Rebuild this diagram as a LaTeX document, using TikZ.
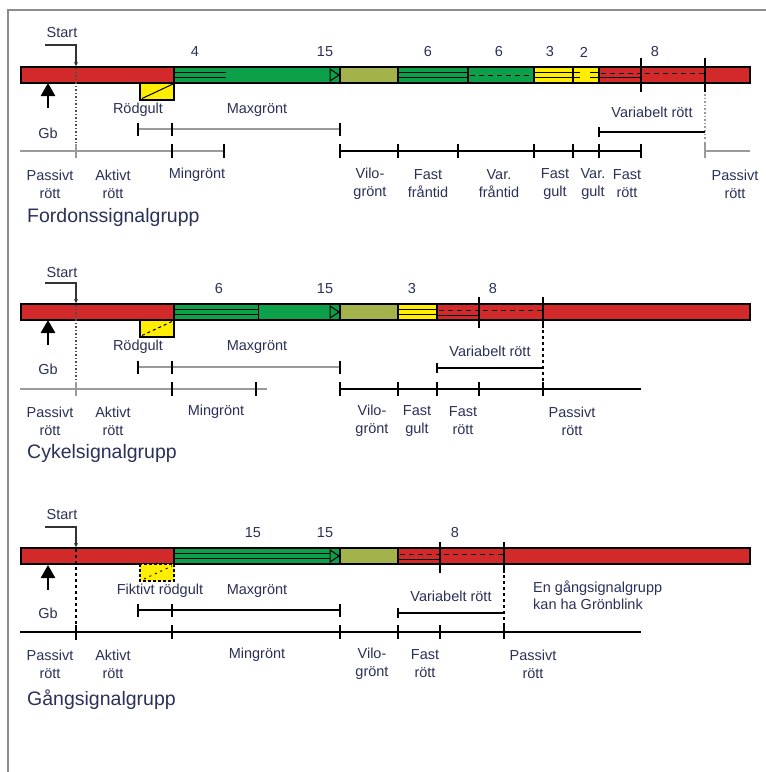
\documentclass[tikz,border=0pt]{standalone}
\usepackage{fontspec}
\setmainfont{Liberation Sans}
\usetikzlibrary{arrows.meta}
\definecolor{sred}{HTML}{D2292B}
\definecolor{sgreen}{HTML}{0CA04A}
\definecolor{solive}{HTML}{A4B24B}
\definecolor{syellow}{HTML}{FFEE00}
\definecolor{txt}{HTML}{2A3058}
\definecolor{framec}{HTML}{8C8C8C}
\definecolor{lgray}{HTML}{9A9A9A}
\tikzset{
  lbl/.style={font=\fontsize{14.5}{18}\selectfont, text=txt, align=center, inner sep=0pt},
  ttl/.style={font=\fontsize{19.5}{22}\selectfont, text=txt, anchor=west, inner sep=0pt},
  barline/.style={line width=1.1pt, black},
  inner/.style={line width=1pt, black},
  innerdash/.style={line width=1pt, black, dash pattern=on 5pt off 4pt},
  tickline/.style={line width=1.2pt, black},
  timeline/.style={line width=1.4pt, black},
  grayline/.style={line width=1.6pt, lgray},
  gbarrow/.style={line width=2.6pt, -{Triangle[length=13pt,width=14pt]}},
  startline/.style={line width=1.2pt, black!80, -{Stealth[length=4pt,width=4pt]}},
}
\begin{document}
\begin{tikzpicture}[x=1pt,y=-1pt]
\useasboundingbox (0,0) rectangle (766,772);
\draw[framec, line width=1.6pt] (8,772) -- (8,10) -- (766,10);

%%%%%%%%%%%%%%%% Section 1: Fordon
\fill[sred] (21,67) rectangle (174,83);
\fill[sgreen] (174,67) rectangle (340,83);
\fill[solive] (340,67) rectangle (398,83);
\fill[sgreen] (398,67) rectangle (534,83);
\fill[syellow] (534,67) rectangle (599,83);
\fill[sred] (599,67) rectangle (750,83);
\draw[barline] (21,67) rectangle (750,83);
\foreach \x in {174,340,398,468,534,573,599} \draw[barline] (\x,67) -- (\x,83);
\draw[inner] (174,72.5) -- (226,72.5) (174,77.5) -- (226,77.5);
\draw[inner] (330,69) -- (339,75) -- (330,81) -- cycle;
\draw[inner] (398,72.5) -- (468,72.5) (398,77.5) -- (468,77.5);
\draw[innerdash] (470,75) -- (534,75);
\draw[inner] (534,72.5) -- (573,72.5) (534,77.5) -- (573,77.5);
\draw[inner] (573,72.5) -- (580,72.5) (573,77.5) -- (580,77.5) (590,72.5) -- (599,72.5) (590,77.5) -- (599,77.5);
\draw[innerdash] (601,73) -- (641,73);
\draw[inner] (599,77.5) -- (641,77.5);
\draw[innerdash] (645,73) -- (705,73);
\draw[tickline] (641,58) -- (641,92);
\draw[tickline] (705,58) -- (705,92);
\draw[lgray, line width=1.6pt, dotted] (705,94) -- (705,140);
% start
\node[lbl] (st1) at (62,33) {Start};
\coordinate (st1a) at (45,45);
\coordinate (st1b) at (76,45);
\coordinate (st1c) at (76,66);
\draw[startline] (st1a) -- (st1b) -- (st1c);
\draw[black!70, line width=1.5pt, dotted] (76,68) -- (76,150);
% Gb
\coordinate (gb1s) at (48,108);
\coordinate (gb1t) at (48,83);
\draw[gbarrow] (gb1s) -- (gb1t);
\node[lbl] (gb1) at (48,133) {Gb};
% rödgult
\fill[syellow] (140,83) rectangle (174,100);
\draw[barline] (140,83) rectangle (174,100);
\draw[inner] (142,98.5) -- (173,84);
% numbers
\node[lbl] (n11) at (195,52) {4};
\node[lbl] (n12) at (325,52) {15};
\node[lbl] (n13) at (428,52) {6};
\node[lbl] (n14) at (499,52) {6};
\node[lbl] (n15) at (550,52) {3};
\node[lbl] (n16) at (584,52) {2};
\node[lbl] (n17) at (655,52) {8};
% labels
\node[lbl] (rg1) at (138,110) {Rödgult};
\node[lbl] (mg1) at (257,110) {Maxgrönt};
\node[lbl] (vr1) at (652,112) {Variabelt rött};
% intervals
\draw[grayline] (138,129) -- (340,129);
\foreach \x in {138,172,340} \draw[tickline] (\x,123) -- (\x,136);
\draw[timeline] (599,132) -- (705,132);
\draw[tickline] (599,127) -- (599,137);
% timeline
\draw[grayline] (20,151) -- (224,151);
\draw[lgray, line width=1.4pt] (76,144) -- (76,158);
\foreach \x in {172,224} \draw[tickline] (\x,144) -- (\x,158);
\draw[timeline] (340,151) -- (641,151);
\foreach \x in {340,398,458,534,573,599,641} \draw[tickline] (\x,144) -- (\x,158);
\draw[grayline] (705,151) -- (750,151);
\draw[lgray, line width=1.6pt] (705,142) -- (705,158);
% bottom labels
\node[lbl] (b11) at (50,184) {Passivt\\rött};
\node[lbl] (b12) at (113,184) {Aktivt\\rött};
\node[lbl] (b13) at (197,175) {Mingrönt};
\node[lbl] (b14) at (370,184) {Vilo-\\grönt};
\node[lbl] (b15) at (428,184) {Fast\\fråntid};
\node[lbl] (b16) at (499,184) {Var.\\fråntid};
\node[lbl] (b17) at (555,184) {Fast\\gult};
\node[lbl] (b18) at (593,184) {Var.\\gult};
\node[lbl] (b19) at (627,184) {Fast\\rött};
\node[lbl] (b110) at (735,184) {Passivt\\rött};
\node[ttl] (t1) at (27,217) {Fordonssignalgrupp};

%%%%%%%%%%%%%%%% Section 2: Cykel
\fill[sred] (21,304) rectangle (174,320);
\fill[sgreen] (174,304) rectangle (340,320);
\fill[solive] (340,304) rectangle (398,320);
\fill[syellow] (398,304) rectangle (437,320);
\fill[sred] (437,304) rectangle (750,320);
\draw[barline] (21,304) rectangle (750,320);
\foreach \x in {174,340,398,437} \draw[barline] (\x,304) -- (\x,320);
\draw[inner] (174,309.5) -- (258,309.5) (174,314.5) -- (258,314.5);
\draw[inner] (258,304) -- (258,320);
\draw[inner] (330,306) -- (339,312) -- (330,318) -- cycle;
\draw[inner] (398,309.5) -- (437,309.5) (398,314.5) -- (437,314.5);
\draw[innerdash] (439,310) -- (479,310);
\draw[inner] (437,315) -- (479,315);
\draw[innerdash] (483,310) -- (543,310);
\draw[tickline] (479,297) -- (479,328);
\draw[tickline] (543,297) -- (543,328);
\draw[black, line width=1.3pt, dashed] (543,330) -- (543,382);
% start
\node[lbl] (st2) at (62,273) {Start};
\coordinate (st2a) at (45,283);
\coordinate (st2b) at (76,283);
\coordinate (st2c) at (76,303);
\draw[startline] (st2a) -- (st2b) -- (st2c);
\draw[black!70, line width=1.5pt, dotted] (76,305) -- (76,388);
% Gb
\coordinate (gb2s) at (48,345);
\coordinate (gb2t) at (48,320);
\draw[gbarrow] (gb2s) -- (gb2t);
\node[lbl] (gb2) at (48,369) {Gb};
% rödgult
\fill[syellow] (140,320) rectangle (174,337);
\draw[barline] (140,320) rectangle (174,337);
\draw[inner, dashed] (142,335.5) -- (173,321);
% numbers
\node[lbl] (n21) at (219,289) {6};
\node[lbl] (n22) at (325,289) {15};
\node[lbl] (n23) at (412,289) {3};
\node[lbl] (n24) at (493,289) {8};
% labels
\node[lbl] (rg2) at (138,347) {Rödgult};
\node[lbl] (mg2) at (257,347) {Maxgrönt};
\node[lbl] (vr2) at (490,351) {Variabelt rött};
% intervals
\draw[grayline] (138,367) -- (340,367);
\foreach \x in {138,172,340} \draw[tickline] (\x,361) -- (\x,374);
\draw[timeline] (437,368) -- (543,368);
\draw[tickline] (437,363) -- (437,373);
% timeline
\draw[grayline] (20,389) -- (267,389);
\draw[lgray, line width=1.4pt] (76,382) -- (76,396);
\foreach \x in {172,256} \draw[tickline] (\x,382) -- (\x,396);
\draw[timeline] (340,389) -- (641,389);
\foreach \x in {340,398,437,479,543} \draw[tickline] (\x,382) -- (\x,396);
% bottom labels
\node[lbl] (b21) at (50,421) {Passivt\\rött};
\node[lbl] (b22) at (113,421) {Aktivt\\rött};
\node[lbl] (b23) at (216,412) {Mingrönt};
\node[lbl] (b24) at (372,421) {Vilo-\\grönt};
\node[lbl] (b25) at (417,421) {Fast\\gult};
\node[lbl] (b26) at (463,421) {Fast\\rött};
\node[lbl] (b27) at (572,421) {Passivt\\rött};
\node[ttl] (t2) at (27,453) {Cykelsignalgrupp};

%%%%%%%%%%%%%%%% Section 3: Gång
\fill[sred] (21,548) rectangle (174,564);
\fill[sgreen] (174,548) rectangle (340,564);
\fill[solive] (340,548) rectangle (398,564);
\fill[sred] (398,548) rectangle (750,564);
\draw[barline] (21,548) rectangle (750,564);
\foreach \x in {174,340,398} \draw[barline] (\x,548) -- (\x,564);
\draw[inner] (174,553.5) -- (330,553.5) (174,558.5) -- (330,558.5);
\draw[inner] (330,550) -- (339,556) -- (330,562) -- cycle;
\draw[innerdash] (400,554) -- (440,554);
\draw[inner] (398,559) -- (440,559);
\draw[innerdash] (444,554) -- (504,554);
\draw[tickline] (440,542) -- (440,573);
\draw[tickline] (504,542) -- (504,573);
\draw[black, line width=1.3pt, dashed] (504,575) -- (504,626);
% start
\node[lbl] (st3) at (62,515) {Start};
\coordinate (st3a) at (45,527);
\coordinate (st3b) at (76,527);
\coordinate (st3c) at (76,547);
\draw[startline] (st3a) -- (st3b) -- (st3c);
\draw[black, line width=1.3pt, dashed] (76,549) -- (76,640);
% Gb
\coordinate (gb3s) at (48,590);
\coordinate (gb3t) at (48,565);
\draw[gbarrow] (gb3s) -- (gb3t);
\node[lbl] (gb3) at (48,613) {Gb};
% fiktivt rödgult
\fill[syellow] (140,564) rectangle (174,581);
\draw[black, line width=1.1pt, densely dashed] (140,564) rectangle (174,581);
\draw[black, line width=0.9pt, dash pattern=on 2pt off 4pt] (144,579) -- (172,566);
% numbers
\node[lbl] (n31) at (253,533) {15};
\node[lbl] (n32) at (325,533) {15};
\node[lbl] (n33) at (455,533) {8};
% labels
\node[lbl] (rg3) at (160,591) {Fiktivt rödgult};
\node[lbl] (mg3) at (257,591) {Maxgrönt};
\node[lbl] (vr3) at (451,596) {Variabelt rött};
\node[lbl, align=left, anchor=west, font=\fontsize{14.5}{17}\selectfont] (gr3) at (533,595) {En gångsignalgrupp\\kan ha Grönblink};
% intervals
\draw[timeline] (138,610) -- (340,610);
\foreach \x in {138,172,340} \draw[tickline] (\x,604) -- (\x,617);
\draw[timeline] (398,613) -- (504,613);
\draw[tickline] (398,608) -- (398,618);
% timeline
\draw[timeline] (20,632) -- (641,632);
\foreach \x in {76,172,340,398,440,504} \draw[tickline] (\x,625) -- (\x,639);
% bottom labels
\node[lbl] (b31) at (50,664) {Passivt\\rött};
\node[lbl] (b32) at (113,664) {Aktivt\\rött};
\node[lbl] (b33) at (257,655) {Mingrönt};
\node[lbl] (b34) at (372,664) {Vilo-\\grönt};
\node[lbl] (b35) at (425,664) {Fast\\rött};
\node[lbl] (b36) at (533,664) {Passivt\\rött};
\node[ttl] (t3) at (27,700) {Gångsignalgrupp};
\end{tikzpicture}
\end{document}
